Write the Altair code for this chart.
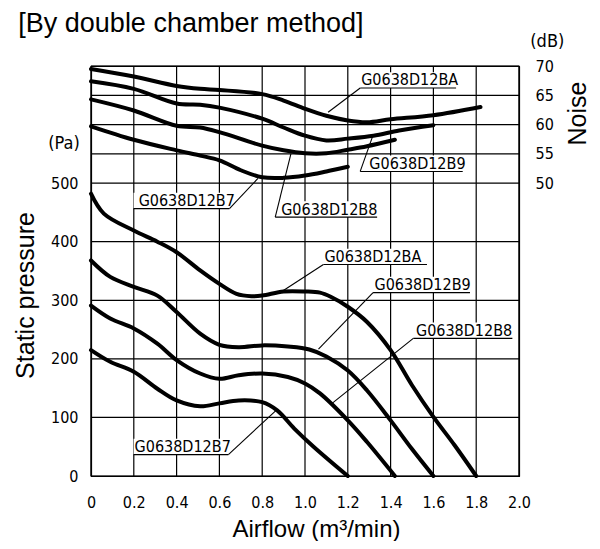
import altair as alt
import pandas as pd

# ---------------- data ----------------
X_TICKS = [0, 0.2, 0.4, 0.6, 0.8, 1.0, 1.2, 1.4, 1.6, 1.8, 2.0]
P_TICKS = [0, 100, 200, 300, 400, 500, 550, 600, 650, 700]
N_TICKS = [50, 55, 60, 65, 70]

MODELS = ["G0638D12BA", "G0638D12B9", "G0638D12B8", "G0638D12B7"]

# static pressure curves (Pa)
ba_p_x = [0, 0.06, 0.2, 0.31, 0.4, 0.51, 0.6, 0.68, 0.75, 0.8, 0.9, 1.0, 1.07, 1.12, 1.2, 1.29, 1.4, 1.5, 1.6, 1.7, 1.8]
ba_p_y = [482, 448, 419, 400, 382, 351, 328, 311, 307, 308, 315, 315, 313, 306, 289, 263, 215, 155, 101, 52, 0]
b9_p_x = [0, 0.09, 0.2, 0.31, 0.4, 0.51, 0.6, 0.69, 0.8, 0.92, 1.02, 1.1, 1.2, 1.29, 1.4, 1.5, 1.6]
b9_p_y = [368, 340, 323, 308, 280, 243, 224, 220, 223, 221, 216, 204, 180, 146, 95, 46, 0]
b8_p_x = [0, 0.09, 0.2, 0.31, 0.4, 0.51, 0.6, 0.69, 0.8, 0.92, 1.0, 1.07, 1.2, 1.29, 1.42]
b8_p_y = [291, 269, 252, 226, 198, 175, 166, 172, 175, 169, 158, 141, 95, 58, 0]
b7_p_x = [0, 0.09, 0.2, 0.31, 0.4, 0.51, 0.6, 0.69, 0.8, 0.87, 0.95, 1.04, 1.2]
b7_p_y = [215, 195, 178, 149, 129, 119, 124, 129, 126, 112, 81, 50, 0]

# noise curves (dB)
ba_n_x = [0, 0.2, 0.4, 0.51, 0.6, 0.8, 0.9, 1.0, 1.1, 1.2, 1.29, 1.4, 1.6, 1.82]
ba_n_y = [69.5, 68.2, 66.6, 66.1, 65.9, 65.2, 64.1, 62.7, 61.5, 60.7, 60.4, 60.9, 61.6, 63.0]
b9_n_x = [0, 0.2, 0.4, 0.51, 0.6, 0.8, 0.9, 1.0, 1.1, 1.2, 1.32, 1.44, 1.6]
b9_n_y = [67.4, 66.1, 63.6, 63.4, 62.9, 61.0, 59.5, 58.1, 57.3, 57.6, 58.1, 59.0, 59.9]
b8_n_x = [0, 0.2, 0.4, 0.51, 0.6, 0.8, 0.9, 1.0, 1.1, 1.2, 1.29, 1.42]
b8_n_y = [64.3, 62.4, 59.8, 59.5, 58.7, 56.4, 55.6, 55.1, 55.1, 55.7, 56.3, 57.4]
b7_n_x = [0, 0.2, 0.4, 0.51, 0.6, 0.7, 0.8, 0.9, 1.0, 1.1, 1.2]
b7_n_y = [59.7, 57.4, 55.6, 54.7, 53.9, 52.2, 51.0, 50.9, 51.3, 52.0, 52.8]

# curve labels (underlined, with leader lines) - pressure part
p_lab_text = ["G0638D12BA", "G0638D12B9", "G0638D12B8", "G0638D12B7"]
p_lab_x0 = [1.086, 1.318, 1.506, 0.199]
p_lab_x1 = [1.570, 1.771, 1.969, 0.642]
p_lab_y = [361, 313, 235, 36.5]
p_lab_tx = [1.086, 1.320, 1.514, 0.199]
p_lead_x0 = [1.086, 1.318, 1.506, 0.642]
p_lead_x1 = [0.899, 1.063, 1.125, 0.869]
p_lead_y1 = [316.6, 216.6, 123.6, 113.4]

# curve labels - noise part
n_lab_text = ["G0638D12BA", "G0638D12B9", "G0638D12B7", "G0638D12B8"]
n_lab_x0 = [1.258, 1.258, 0.199, 0.861]
n_lab_x1 = [1.706, 1.737, 0.647, 1.337]
n_lab_y = [66.25, 52.0, 45.65, 44.2]
n_lab_tx = [1.258, 1.296, 0.218, 0.884]
n_lead_x0 = [1.258, 1.258, 0.647, 0.861]
n_lead_x1 = [1.108, 1.318, 0.780, 0.934]
n_lead_y1 = [62.1, 58.2, 50.8, 55.0]

TITLE = "[By double chamber method]"
UNIT_P = "(Pa)"
UNIT_N = "(dB)"

# ---------------- tables ----------------
def curves(pairs):
    rows = []
    for m, xs, ys in pairs:
        for x, y in zip(xs, ys):
            rows.append({"model": m, "x": x, "y": y})
    return pd.DataFrame(rows)

df_p = curves([(MODELS[0], ba_p_x, ba_p_y), (MODELS[1], b9_p_x, b9_p_y),
               (MODELS[2], b8_p_x, b8_p_y), (MODELS[3], b7_p_x, b7_p_y)])
df_n = curves([(MODELS[0], ba_n_x, ba_n_y), (MODELS[1], b9_n_x, b9_n_y),
               (MODELS[2], b8_n_x, b8_n_y), (MODELS[3], b7_n_x, b7_n_y)])

P_BOX = 27.0   # label box height in Pa
N_BOX = 2.7    # label box height in dB

df_pl = pd.DataFrame({"text": p_lab_text, "x0": p_lab_x0, "x1": p_lab_x1, "y": p_lab_y,
                      "tx": p_lab_tx, "lx0": p_lead_x0, "lx1": p_lead_x1, "ly1": p_lead_y1})
df_pl["ytop"] = df_pl["y"] + P_BOX
df_nl = pd.DataFrame({"text": n_lab_text, "x0": n_lab_x0, "x1": n_lab_x1, "y": n_lab_y,
                      "tx": n_lab_tx, "lx0": n_lead_x0, "lx1": n_lead_x1, "ly1": n_lead_y1})
df_nl["ytop"] = df_nl["y"] + N_BOX

df_xt = pd.DataFrame({"v": X_TICKS})
df_pt = pd.DataFrame({"v": P_TICKS})

# ---------------- styling ----------------
LABEL_FONT = "DejaVu Sans Condensed, DejaVu Sans"
TITLE_FONT = "Liberation Sans, Arial"

x_scale = alt.Scale(domain=[0, 2], nice=False)
x_axis = alt.Axis(values=X_TICKS,
                  labelExpr="datum.value == 0 ? '0' : format(datum.value, '.1f')",
                  grid=False, domainColor="black", domainWidth=1.2, ticks=False, tickSize=0,
                  labelFlush=False, labelOverlap=False,
                  labelPadding=18, labelFont=LABEL_FONT, labelFontSize=16, labelColor="black",
                  title="Airflow (m³/min)", titleFont=TITLE_FONT, titleFontSize=24,
                  titleFontWeight="normal", titleColor="black",
                  titleX=225, titleY=60, titleBaseline="alphabetic", titleAlign="center")

p_scale = alt.Scale(domain=[0, 700], nice=False)
p_axis = alt.Axis(values=P_TICKS, labelExpr="datum.value <= 500 ? datum.label : ''",
                  grid=False, domainColor="black", domainWidth=1.2, ticks=False, tickSize=0,
                  labelFlush=False, labelOverlap=False,
                  labelPadding=13, labelFont=LABEL_FONT, labelFontSize=16, labelColor="black",
                  title="Static pressure", titleFont=TITLE_FONT, titleFontSize=25,
                  titleFontWeight="normal", titleColor="black", titleAngle=270,
                  titleX=-66, titleY=229, titleBaseline="middle", titleAlign="center")

n_scale = alt.Scale(domain=[0, 70], nice=False)
n_axis = alt.Axis(values=N_TICKS, orient="right", grid=False,
                  domainColor="black", domainWidth=1.2, ticks=False, tickSize=0,
                  labelFlush=False, labelOverlap=False,
                  labelPadding=16, labelFont=LABEL_FONT, labelFontSize=16, labelColor="black",
                  title="Noise", titleFont=TITLE_FONT, titleFontSize=25,
                  titleFontWeight="normal", titleColor="black", titleAngle=270,
                  titleX=58, titleY=47, titleBaseline="middle", titleAlign="center")


def part(df_curve, df_lab, yscale, yaxis, with_grid):
    X = lambda f: alt.X(f, type="quantitative", scale=x_scale, axis=x_axis)
    Y = lambda f: alt.Y(f, type="quantitative", scale=yscale, axis=yaxis)
    layers = []
    if with_grid:
        layers.append(alt.Chart(df_xt).mark_rule(color="black", strokeWidth=1.2).encode(x=X("v")))
        layers.append(alt.Chart(df_pt).mark_rule(color="black", strokeWidth=1.2).encode(y=Y("v")))
    layers.append(alt.Chart(df_lab).mark_rect(fill="white", strokeWidth=0).encode(
        x=X("x0"), x2="x1", y=Y("y"), y2="ytop"))
    layers.append(alt.Chart(df_curve).mark_line(color="black", strokeWidth=4,
                                                interpolate="catmull-rom", strokeCap="round").encode(
        x=X("x"), y=Y("y"), detail="model:N"))
    layers.append(alt.Chart(df_lab).mark_rule(color="black", strokeWidth=1.1).encode(
        x=X("x0"), x2="x1", y=Y("y")))
    layers.append(alt.Chart(df_lab).mark_rule(color="black", strokeWidth=1.1).encode(
        x=X("lx0"), x2="lx1", y=Y("y"), y2="ly1"))
    layers.append(alt.Chart(df_lab).mark_text(align="left", baseline="alphabetic", dy=-2.5, dx=1,
                                              font=LABEL_FONT, fontSize=16, color="black").encode(
        x=X("tx"), y=Y("y"), text="text:N"))
    return alt.layer(*layers)


p_part = part(df_p, df_pl, p_scale, p_axis, True)
n_part = part(df_n, df_nl, n_scale, n_axis, False)

title_mark = alt.Chart(pd.DataFrame({"t": [TITLE]})).mark_text(
    align="left", baseline="alphabetic", font=TITLE_FONT, fontSize=27, color="black").encode(
    x=alt.value(-72.7), y=alt.value(-34.5), text="t:N")
pa_mark = alt.Chart(pd.DataFrame({"t": [UNIT_P]})).mark_text(
    align="center", baseline="middle", font=LABEL_FONT, fontSize=18, color="black").encode(
    x=alt.value(-27), y=alt.value(78.3), text="t:N")
db_mark = alt.Chart(pd.DataFrame({"t": [UNIT_N]})).mark_text(
    align="center", baseline="middle", font=LABEL_FONT, fontSize=18, color="black").encode(
    x=alt.value(456.3), y=alt.value(-23.7), text="t:N")

p_all = alt.layer(p_part, title_mark, pa_mark, db_mark)

chart = alt.layer(p_all, n_part).resolve_scale(
    y="independent"
).properties(
    width=428, height=410,
    autosize=alt.AutoSizeParams(type="none"),
    padding={"left": 83, "top": 58, "right": 73, "bottom": 65},
    background="white",
).configure_view(stroke="black", strokeWidth=1.2)

chart.save("out.html", embed_options={"renderer": "svg", "actions": False})
